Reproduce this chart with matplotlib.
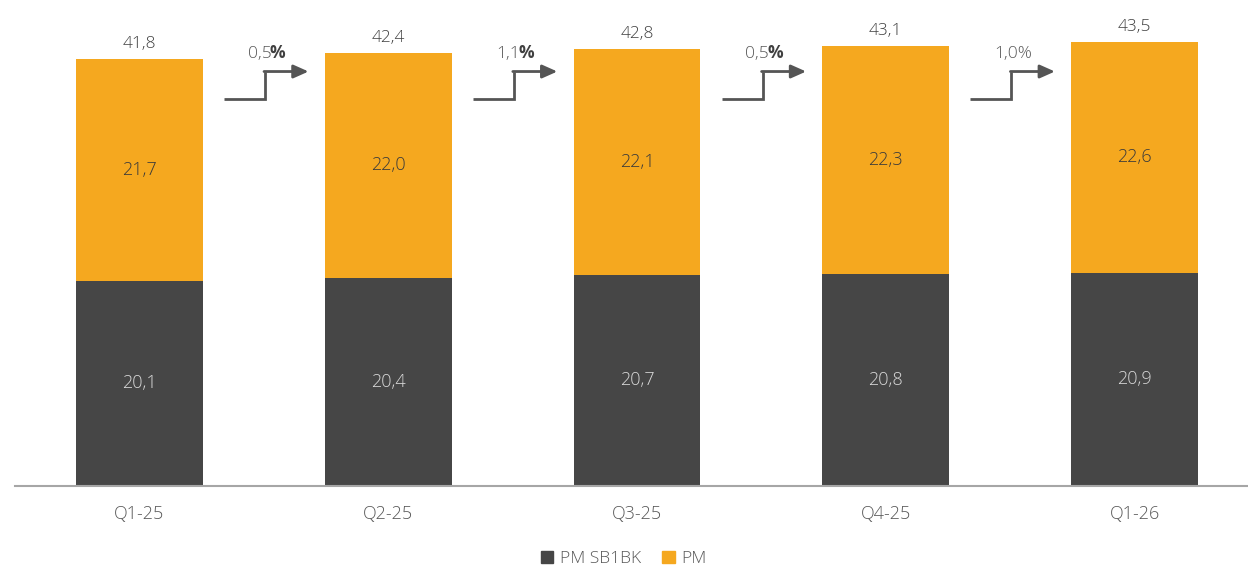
import matplotlib.pyplot as plt
from matplotlib.patches import Patch

plt.rcParams['font.family'] = ['Open Sans', 'DejaVu Sans']
plt.rcParams['font.weight'] = 'light'

quarters = ['Q1-25', 'Q2-25', 'Q3-25', 'Q4-25', 'Q1-26']
pm_sb1bk = [20.1, 20.4, 20.7, 20.8, 20.9]
pm = [21.7, 22.0, 22.1, 22.3, 22.6]
totals = [41.8, 42.4, 42.8, 43.1, 43.5]
growth = ['0,5', '1,1', '0,5', '1,0']
growth_bold_pct = [True, True, True, False]

dark = '#464646'
orange = '#F5A81F'
txt = '#595959'

fig = plt.figure(figsize=(12.48, 5.69), dpi=100)
ax = fig.add_axes([0.012, 0.1459, 0.988, 0.854])

x = list(range(len(quarters)))
w = 0.51
ax.bar(x, pm_sb1bk, w, color=dark, label='PM SB1BK')
ax.bar(x, pm, w, bottom=pm_sb1bk, color=orange, label='PM')

for i in x:
    ax.text(i, pm_sb1bk[i] / 2, f'{pm_sb1bk[i]:.1f}'.replace('.', ','),
            ha='center', va='center', color='#d9d9d9', fontsize=13)
    ax.text(i, pm_sb1bk[i] + pm[i] / 2, f'{pm[i]:.1f}'.replace('.', ','),
            ha='center', va='center', color='#3a3a3a', fontsize=13)
    ax.text(i, totals[i] + 0.7, f'{totals[i]:.1f}'.replace('.', ','),
            ha='center', va='bottom', color='#404040', fontsize=12.5)

# step arrows between bars
y_lo, y_hi = 37.9, 40.6
for i, g in enumerate(growth):
    x0, xs, x1 = i + 0.34, i + 0.505, i + 0.68
    ax.plot([x0, xs, xs], [y_lo, y_lo, y_hi], color='#555555', lw=2,
            solid_joinstyle='miter', solid_capstyle='butt')
    ax.annotate('', xy=(x1, y_hi), xytext=(xs - 0.004, y_hi),
                arrowprops=dict(arrowstyle='-|>,head_length=0.9,head_width=0.4',
                                color='#555555', lw=2, shrinkA=0, shrinkB=0))
    if growth_bold_pct[i]:
        t = ax.text(xs - 0.07, y_hi + 0.9, g, ha='left', va='bottom',
                    color=txt, fontsize=12.5)
        ax.annotate('%', xy=(1, 0), xytext=(-1, 0), textcoords='offset points',
                    xycoords=t, ha='left', va='bottom',
                    color='#404040', fontsize=12.5, fontweight='bold')
    else:
        ax.text(xs - 0.07, y_hi + 0.9, g + '%', ha='left', va='bottom',
                color=txt, fontsize=12.5)

ax.set_xlim(-0.5, 4.456)
ax.set_ylim(0, 47.6)
ax.set_xticks(x)
ax.set_xticklabels(quarters, fontsize=13, color=txt)
ax.tick_params(axis='x', length=0, pad=14)
ax.set_yticks([])
for s in ['top', 'right', 'left']:
    ax.spines[s].set_visible(False)
ax.spines['bottom'].set_color('#a6a6a6')
ax.spines['bottom'].set_linewidth(1.5)

handles = [Patch(color=dark, label='PM SB1BK'), Patch(color=orange, label='PM')]
fig.legend(handles=handles, loc='center', bbox_to_anchor=(0.5, 0.018),
           ncol=2, frameon=False, fontsize=12.5, labelcolor=txt,
           handlelength=0.7, handleheight=0.7, handletextpad=0.4, columnspacing=1.2)

fig.savefig('out.png', dpi=100)
